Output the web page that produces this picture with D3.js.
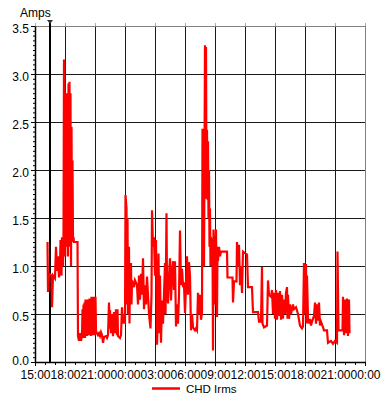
<!DOCTYPE html>
<html>
<head>
<meta charset="utf-8">
<script src="https://cdn.jsdelivr.net/npm/d3@7"></script>
<style>
  html, body { margin: 0; padding: 0; background: #fff; }
  svg { display: block; }
  text { font-family: "Liberation Sans", Arial, sans-serif; font-size: 12px; fill: #000; }
</style>
</head>
<body>
<svg id="chart" width="381" height="395"></svg>
<script>
// Current (A) on the CHD circuit, logged from 15:00 on day one to midnight of day three.
// Sample times are hours after the 15:00 start of the window.
const sampleHours = [
  1.25, 1.30, 1.40, 1.65, 1.70, 1.80, 2.00, 2.10, 2.20, 2.30, 2.40, 2.50, 2.55, 2.65, 2.70, 2.80, 2.85,
  2.90, 2.98, 3.02, 3.06, 3.10, 3.15, 3.20, 3.25, 3.30, 3.35, 3.40, 3.45, 3.50, 3.55, 3.60, 3.65, 3.70,
  3.75, 3.80, 3.85, 3.90, 4.25, 4.30, 4.40, 4.50, 4.60, 4.70, 4.75, 4.80, 4.85, 4.90, 4.95, 5.00, 5.05,
  5.10, 5.15, 5.20, 5.25, 5.30, 5.35, 5.40, 5.45, 5.50, 5.55, 5.60, 5.65, 5.70, 5.75, 5.80, 5.85, 5.90,
  5.95, 6.00, 6.05, 6.10, 6.20, 6.30, 6.40, 6.50, 6.60, 6.70, 6.80, 6.90, 7.10, 7.20, 7.30, 7.40, 7.45,
  7.50, 7.60, 7.70, 7.80, 7.90, 8.00, 8.10, 8.20, 8.25, 8.30, 8.50, 8.60, 8.70, 8.80, 8.90, 9.00, 9.05,
  9.15, 9.20, 9.25, 9.30, 9.40, 9.45, 9.50, 9.60, 9.65, 9.70, 9.90, 10.00, 10.20, 10.30, 10.40, 10.50,
  10.60, 10.70, 10.80, 10.90, 11.00, 11.10, 11.20, 11.30, 11.40, 11.55, 11.65, 11.70, 11.80, 11.90,
  12.00, 12.10, 12.20, 12.30, 12.35, 12.45, 12.50, 12.60, 12.70, 12.80, 12.90, 13.00, 13.05, 13.15,
  13.20, 13.30, 13.40, 13.50, 13.60, 13.70, 13.80, 13.90, 14.00, 14.10, 14.20, 14.30, 14.40, 14.50,
  14.60, 14.70, 14.80, 14.90, 15.00, 15.10, 15.20, 15.30, 15.40, 15.50, 15.60, 15.70, 15.80, 16.00,
  16.10, 16.20, 16.30, 16.40, 16.50, 16.60, 16.70, 16.75, 16.80, 16.85, 16.90, 16.95, 17.00, 17.05,
  17.10, 17.15, 17.20, 17.25, 17.30, 17.35, 17.40, 17.45, 17.50, 17.55, 17.60, 17.70, 17.75, 17.80,
  17.85, 17.90, 17.95, 18.00, 18.10, 18.20, 18.25, 18.30, 18.40, 18.50, 18.60, 19.20, 19.25, 19.75,
  19.80, 19.90, 20.15, 20.20, 20.30, 20.40, 20.50, 20.60, 20.70, 20.80, 21.20, 21.30, 21.70, 21.80,
  22.30, 22.40, 22.60, 22.70, 22.75, 22.90, 23.20, 23.30, 23.40, 23.60, 23.70, 23.80, 23.90, 24.00,
  24.10, 24.20, 24.30, 24.40, 24.50, 24.60, 24.70, 24.80, 24.90, 25.00, 25.10, 25.20, 25.25, 25.30,
  25.40, 25.50, 25.60, 25.80, 25.90, 26.10, 26.30, 26.50, 26.70, 26.80, 26.90, 27.00, 27.10, 27.15,
  27.20, 27.30, 27.40, 27.50, 27.60, 27.70, 27.90, 28.00, 28.10, 28.20, 28.30, 28.40, 28.50, 28.60,
  28.80, 28.90, 29.20, 29.30, 29.60, 29.80, 30.00, 30.20, 30.25, 30.35, 30.75, 30.80, 30.90, 31.00,
  31.10, 31.20, 31.30, 31.40, 31.45
];
const irmsAmps = [
  1.25, 0.73, 0.92, 0.90, 0.57, 0.90, 0.87, 1.20, 0.95, 1.10, 0.88, 1.00, 1.27, 0.90, 1.30, 1.00, 1.30,
  3.15, 2.60, 1.10, 2.80, 1.30, 2.80, 1.20, 2.75, 1.10, 2.90, 1.40, 2.92, 1.20, 2.80, 1.00, 2.45, 1.30,
  2.10, 1.25, 1.30, 1.25, 1.25, 0.27, 0.22, 0.30, 0.22, 0.28, 0.55, 0.25, 0.60, 0.30, 0.62, 0.25, 0.65,
  0.30, 0.60, 0.27, 0.65, 0.30, 0.62, 0.28, 0.66, 0.30, 0.60, 0.27, 0.68, 0.30, 0.65, 0.28, 0.68, 0.30,
  0.62, 0.28, 0.68, 0.32, 0.30, 0.28, 0.30, 0.27, 0.31, 0.28, 0.20, 0.26, 0.27, 0.25, 0.28, 0.62, 0.35,
  0.54, 0.30, 0.50, 0.27, 0.52, 0.30, 0.55, 0.28, 0.55, 0.27, 0.25, 0.28, 0.57, 0.40, 0.50, 0.40, 1.74,
  1.60, 0.60, 1.50, 0.50, 1.20, 0.40, 1.00, 1.03, 0.60, 0.85, 0.78, 0.85, 0.80, 0.60, 0.90, 0.65,
  0.92, 0.70, 1.08, 0.55, 0.80, 0.60, 0.89, 0.70, 0.50, 0.35, 0.70, 1.58, 1.20, 1.30,
  0.90, 1.27, 0.18, 0.50, 1.13, 0.30, 0.90, 0.20, 0.64, 0.40, 0.70, 1.03, 0.50, 1.55,
  0.80, 0.61, 0.90, 1.08, 0.64, 0.90, 1.05, 0.75, 1.05, 0.37, 0.60, 0.40, 0.70, 1.37,
  0.80, 0.97, 0.80, 0.81, 0.51, 0.80, 1.10, 0.70, 1.04, 0.90, 0.33, 0.50, 0.36, 0.33,
  0.35, 0.33, 0.72, 0.50, 0.70, 0.44, 0.51, 2.43, 1.30, 2.28, 1.00, 2.10, 3.30, 2.40,
  3.28, 1.70, 2.42, 1.69, 2.30, 1.50, 2.00, 1.20, 1.60, 1.00, 1.30, 1.15, 1.28, 0.12,
  1.38, 0.60, 1.30, 1.05, 1.38, 0.47, 1.20, 1.05, 1.20, 1.10, 1.15, 1.15, 0.88, 0.88,
  0.62, 0.84, 0.84, 1.25, 1.00, 1.22, 0.80, 1.00, 0.72, 1.15, 1.12, 0.78, 0.78, 0.52,
  0.52, 0.42, 0.42, 0.99, 0.40, 0.36, 0.38, 0.85, 0.70, 0.68, 0.75, 0.50, 0.72, 0.45,
  0.75, 0.44, 0.72, 0.48, 0.74, 0.44, 0.70, 0.45, 0.65, 0.50, 0.72, 0.78, 0.45, 0.70,
  0.45, 0.60, 0.50, 0.60, 0.55, 0.57, 0.50, 0.38, 0.35, 0.37, 1.03, 0.50, 1.02, 0.40,
  0.90, 0.45, 0.40, 0.45, 0.38, 0.42, 0.48, 0.62, 0.40, 0.60, 0.43, 0.62, 0.38, 0.42,
  0.36, 0.33, 0.33, 0.20, 0.22, 0.19, 0.22, 0.20, 1.15, 0.33, 0.33, 0.68, 0.28, 0.65,
  0.30, 0.66, 0.27, 0.65, 0.30
];
const yTickValues = [0, 0.5, 1.0, 1.5, 2.0, 2.5, 3.0, 3.5];
const windowHours = 33;          // 15:00 day one -> 00:00 day three
const cursorHour = 1.5;          // cursor placed at 16:30
const seriesName = "CHD Irms";
const unitLabel = "Amps";

const start = new Date(2000, 0, 1, 15, 0, 0);
const atHour = h => new Date(start.getTime() + h * 3600e3);
const data = sampleHours.map((h, i) => ({ t: atHour(h), v: irmsAmps[i] }));

const svg = d3.select("#chart");
const plot = { left: 35, right: 365, top: 26, bottom: 362 };

const x = d3.scaleTime().domain([start, atHour(windowHours)]).range([plot.left, plot.right]);
const y = d3.scaleLinear().domain([0, 3.5]).range([plot.bottom, plot.top]);

const majorTimes = d3.timeHour.every(3).range(start, atHour(windowHours + 0.01));
const minorTimes = d3.timeHour.every(1).range(start, atHour(windowHours + 0.01));

// grid
const grid = svg.append("g").attr("shape-rendering", "crispEdges");
grid.selectAll("line.h").data(yTickValues.filter(v => v > 0 && v < 3.5)).join("line")
  .attr("x1", plot.left).attr("x2", plot.right)
  .attr("y1", d => y(d)).attr("y2", d => y(d))
  .attr("stroke", "#1a1a1a").attr("stroke-width", 1);
grid.selectAll("line.v").data(majorTimes.slice(1, -1)).join("line")
  .attr("x1", d => x(d)).attr("x2", d => x(d))
  .attr("y1", plot.top).attr("y2", plot.bottom)
  .attr("stroke", "#1a1a1a").attr("stroke-width", 1);

// frame: grey top and right edges
grid.append("line").attr("x1", plot.left).attr("x2", plot.right).attr("y1", plot.top).attr("y2", plot.top)
  .attr("stroke", "#808080");
grid.append("line").attr("x1", plot.right).attr("x2", plot.right).attr("y1", plot.top).attr("y2", plot.bottom)
  .attr("stroke", "#808080");

// small grey ticks above the top edge
svg.append("g").attr("transform", `translate(0,${plot.top})`)
  .call(d3.axisTop(x).tickValues(majorTimes).tickSize(3).tickFormat(""))
  .call(g => g.select(".domain").remove())
  .call(g => g.selectAll("line").attr("stroke", "#aaa"));

// cursor line with marker
svg.append("line")
  .attr("x1", x(atHour(cursorHour))).attr("x2", x(atHour(cursorHour)))
  .attr("y1", plot.top - 3).attr("y2", plot.bottom)
  .attr("stroke", "#000").attr("stroke-width", 2);
svg.append("path")
  .attr("transform", `translate(${x(atHour(cursorHour))},${plot.top - 4})`)
  .attr("d", "M-3,-2 L3,-2 L0,2 Z")
  .attr("fill", "#333");

// series
svg.append("path")
  .datum(data)
  .attr("fill", "none")
  .attr("stroke", "#ff0000")
  .attr("stroke-width", 2.2)
  .attr("stroke-linejoin", "miter")
  .attr("d", d3.line().x(d => x(d.t)).y(d => y(d.v)));

// x axis (major with labels, minor hourly ticks)
const xAxisG = svg.append("g").attr("transform", `translate(0,${plot.bottom})`);
xAxisG.call(d3.axisBottom(x).tickValues(minorTimes).tickSize(3).tickFormat(""))
  .call(g => g.selectAll("line").attr("stroke", "#000"))
  .call(g => g.select(".domain").remove());
xAxisG.append("g")
  .call(d3.axisBottom(x).tickValues(majorTimes).tickSize(4).tickPadding(4.5).tickSizeOuter(0)
    .tickFormat(d3.timeFormat("%H:%M")))
  .call(g => g.select(".domain").attr("stroke", "#000").attr("stroke-width", 1.5))
  .call(g => g.selectAll("text").attr("font-family", null).attr("font-size", null).attr("fill", "#000"));

// y axis (major with labels, minor ticks every 0.05 A)
const yAxisG = svg.append("g").attr("transform", `translate(${plot.left},0)`);
yAxisG.call(d3.axisLeft(y).tickValues(d3.range(0, 3.5001, 0.05)).tickSize(2).tickFormat(""))
  .call(g => g.select(".domain").remove())
  .call(g => g.selectAll("line").attr("stroke", "#000"));
yAxisG.append("g")
  .call(d3.axisLeft(y).tickValues(yTickValues).tickSize(4).tickPadding(2).tickSizeOuter(0)
    .tickFormat(d3.format(".1f")))
  .call(g => g.select(".domain").attr("stroke", "#000").attr("stroke-width", 1.5))
  .call(g => g.selectAll("text").attr("font-family", null).attr("font-size", null)
    .attr("fill", "#000").attr("dy", d => d === 0 ? "0.2em" : "0.5em"));

// unit label
svg.append("text").attr("x", 20).attr("y", 17).text(unitLabel);

// legend
const legend = svg.append("g");
legend.append("line").attr("x1", 152).attr("x2", 180).attr("y1", 388.5).attr("y2", 388.5)
  .attr("stroke", "#ff0000").attr("stroke-width", 2.5);
legend.append("text").attr("x", 186).attr("y", 392.5).style("font-size", "11.5px").text(seriesName);
</script>
</body>
</html>
